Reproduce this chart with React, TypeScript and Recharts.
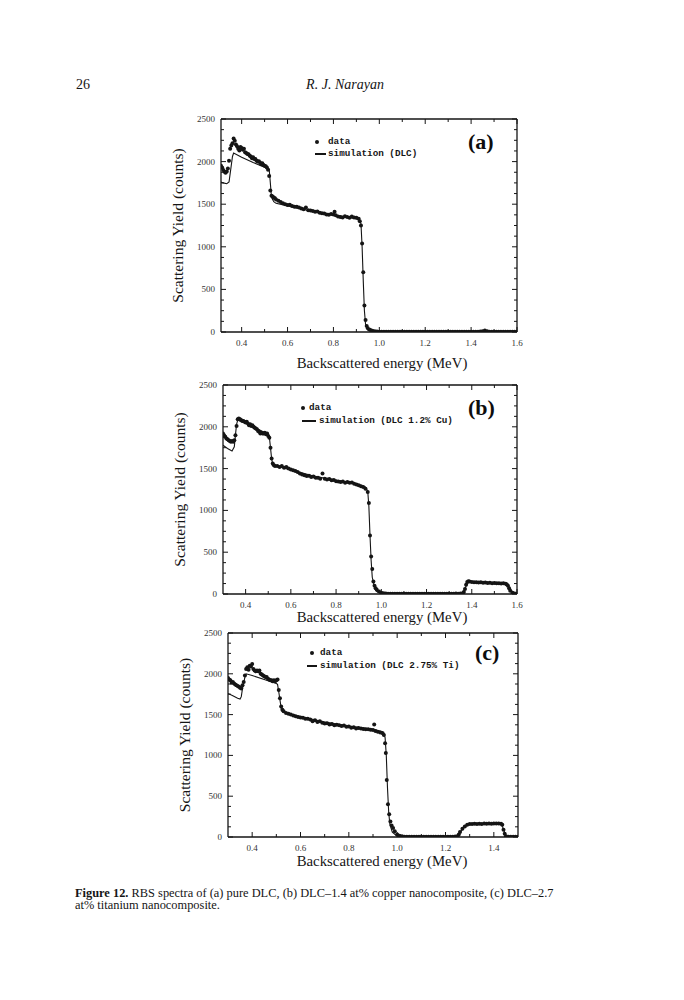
import React from "react";
import { ComposedChart, Scatter, XAxis, YAxis, Legend } from "recharts";

// RBS spectra: [energy MeV, counts]
const dataA = [
  [0.31, 1950], [0.315, 1930], [0.32, 1900], [0.325, 1880], [0.33, 1870], [0.335, 1885], [0.34, 1920],
  [0.345, 2010], [0.35, 2150], [0.355, 2190], [0.36, 2215], [0.365, 2270], [0.37, 2245], [0.375, 2200],
  [0.38, 2180], [0.385, 2150], [0.39, 2130], [0.395, 2170], [0.4, 2160], [0.405, 2140], [0.41, 2150],
  [0.415, 2110], [0.42, 2100], [0.425, 2090], [0.43, 2085], [0.435, 2070], [0.44, 2060], [0.445, 2040],
  [0.45, 2050], [0.455, 2030], [0.46, 2030], [0.465, 2010], [0.47, 2000], [0.475, 2005], [0.48, 1990],
  [0.485, 1970], [0.49, 1980], [0.495, 1960], [0.5, 1950], [0.505, 1945], [0.51, 1930], [0.515, 1905],
  [0.52, 1830], [0.525, 1660], [0.53, 1600], [0.535, 1590], [0.54, 1580], [0.545, 1570], [0.55, 1555],
  [0.56, 1540], [0.57, 1525], [0.58, 1510], [0.59, 1500], [0.6, 1490], [0.61, 1495], [0.62, 1480],
  [0.63, 1470], [0.64, 1470], [0.65, 1460], [0.66, 1450], [0.67, 1440], [0.68, 1460], [0.69, 1430],
  [0.7, 1425], [0.71, 1420], [0.72, 1410], [0.73, 1415], [0.74, 1400], [0.75, 1395], [0.76, 1390],
  [0.77, 1380], [0.78, 1375], [0.79, 1385], [0.8, 1380], [0.805, 1410], [0.81, 1370], [0.82, 1355],
  [0.83, 1350], [0.84, 1345], [0.85, 1360], [0.86, 1350], [0.87, 1340], [0.88, 1355], [0.89, 1345],
  [0.9, 1340], [0.91, 1330], [0.915, 1300], [0.92, 1250], [0.925, 1040], [0.93, 700], [0.935, 310],
  [0.94, 140], [0.945, 70], [0.95, 45], [0.96, 25], [0.97, 15], [0.98, 8], [0.99, 5], [1.0, 4],
  [1.01, 3], [1.02, 3], [1.03, 2], [1.04, 3], [1.05, 2], [1.06, 2], [1.07, 3], [1.08, 2], [1.09, 2],
  [1.1, 3], [1.11, 2], [1.12, 2], [1.13, 3], [1.14, 2], [1.15, 2], [1.16, 3], [1.17, 2], [1.18, 2],
  [1.19, 3], [1.2, 2], [1.21, 3], [1.22, 4], [1.23, 2], [1.24, 2], [1.25, 3], [1.26, 2], [1.27, 2],
  [1.28, 3], [1.29, 2], [1.3, 2], [1.31, 3], [1.32, 2], [1.33, 2], [1.34, 3], [1.35, 2], [1.36, 2],
  [1.37, 3], [1.38, 2], [1.39, 3], [1.4, 2], [1.41, 2], [1.42, 3], [1.43, 3], [1.44, 5], [1.45, 10],
  [1.46, 18], [1.47, 9], [1.48, 4], [1.49, 3], [1.5, 2], [1.51, 2], [1.52, 3], [1.53, 2], [1.54, 2],
  [1.55, 3], [1.56, 2], [1.57, 2], [1.58, 3], [1.59, 2], [1.6, 2],
];

const simA = [
  [0.31, 1760], [0.32, 1750], [0.335, 1740], [0.345, 1760], [0.352, 1900], [0.36, 2060], [0.365, 2100],
  [0.4, 2050], [0.45, 1990], [0.5, 1935], [0.52, 1910], [0.525, 1750], [0.53, 1580], [0.54, 1530],
  [0.55, 1510], [0.6, 1480], [0.7, 1420], [0.8, 1375], [0.9, 1330], [0.915, 1310], [0.92, 1270],
  [0.925, 1000], [0.93, 600], [0.935, 250], [0.94, 90], [0.95, 20], [0.97, 0], [1.6, 0],
];

const dataB = [
  [0.3, 1920], [0.305, 1900], [0.31, 1880], [0.315, 1860], [0.32, 1850], [0.325, 1840], [0.33, 1830],
  [0.335, 1820], [0.34, 1830], [0.345, 1820], [0.35, 1840], [0.355, 1900], [0.36, 2010], [0.365, 2090],
  [0.37, 2100], [0.375, 2090], [0.38, 2080], [0.385, 2070], [0.39, 2070], [0.395, 2060], [0.4, 2050],
  [0.405, 2060], [0.41, 2040], [0.415, 2020], [0.42, 2030], [0.425, 2010], [0.43, 2020], [0.435, 2000],
  [0.44, 1990], [0.445, 1980], [0.45, 1970], [0.455, 1950], [0.46, 1940], [0.465, 1920], [0.47, 1930],
  [0.475, 1920], [0.48, 1920], [0.485, 1930], [0.49, 1910], [0.495, 1920], [0.5, 1890], [0.505, 1870],
  [0.51, 1750], [0.515, 1620], [0.52, 1560], [0.525, 1540], [0.53, 1530], [0.54, 1530], [0.55, 1520],
  [0.56, 1530], [0.57, 1510], [0.58, 1520], [0.59, 1500], [0.6, 1490], [0.61, 1480], [0.62, 1470],
  [0.63, 1460], [0.64, 1440], [0.65, 1430], [0.66, 1420], [0.67, 1410], [0.68, 1415], [0.69, 1400],
  [0.7, 1405], [0.71, 1390], [0.72, 1390], [0.73, 1380], [0.74, 1440], [0.75, 1380], [0.76, 1370],
  [0.77, 1375], [0.78, 1360], [0.79, 1365], [0.8, 1350], [0.81, 1345], [0.82, 1340], [0.83, 1345],
  [0.84, 1330], [0.85, 1340], [0.86, 1330], [0.87, 1335], [0.88, 1320], [0.89, 1310], [0.9, 1300],
  [0.91, 1290], [0.92, 1280], [0.93, 1260], [0.94, 1220], [0.945, 1090], [0.95, 700], [0.955, 450],
  [0.96, 300], [0.965, 150], [0.97, 100], [0.975, 70], [0.98, 50], [0.99, 30], [1.0, 15], [1.01, 8],
  [1.02, 5], [1.03, 4], [1.04, 4], [1.05, 3], [1.06, 4], [1.07, 3], [1.08, 4], [1.09, 3], [1.1, 4],
  [1.11, 3], [1.12, 3], [1.13, 4], [1.14, 3], [1.15, 4], [1.16, 3], [1.17, 3], [1.18, 4], [1.19, 3],
  [1.2, 4], [1.21, 3], [1.22, 3], [1.23, 4], [1.24, 3], [1.25, 4], [1.26, 3], [1.27, 3], [1.28, 4],
  [1.29, 3], [1.3, 4], [1.31, 3], [1.32, 4], [1.33, 5], [1.34, 4], [1.35, 6], [1.36, 10], [1.365, 25],
  [1.37, 60], [1.375, 110], [1.38, 145], [1.385, 152], [1.39, 150], [1.4, 145], [1.41, 140], [1.42, 142],
  [1.43, 138], [1.44, 140], [1.45, 135], [1.46, 137], [1.47, 133], [1.48, 135], [1.49, 130], [1.5, 132],
  [1.51, 128], [1.52, 130], [1.53, 126], [1.54, 128], [1.55, 122], [1.555, 115], [1.56, 100],
  [1.565, 70], [1.57, 40], [1.58, 15], [1.59, 6], [1.6, 3],
];

const simB = [
  [0.3, 1780], [0.32, 1740], [0.34, 1710], [0.35, 1760], [0.355, 1900], [0.36, 2030], [0.365, 2080],
  [0.4, 2050], [0.45, 1980], [0.5, 1910], [0.505, 1880], [0.51, 1750], [0.515, 1620], [0.52, 1550],
  [0.55, 1520], [0.6, 1485], [0.7, 1410], [0.8, 1360], [0.9, 1310], [0.93, 1280], [0.94, 1230],
  [0.945, 1050], [0.95, 700], [0.955, 400], [0.96, 200], [0.97, 80], [0.98, 30], [1.0, 5], [1.36, 5],
  [1.37, 60], [1.38, 140], [1.4, 140], [1.55, 125], [1.56, 100], [1.575, 40], [1.59, 5], [1.6, 3],
];

const dataC = [
  [0.3, 1950], [0.305, 1930], [0.31, 1920], [0.315, 1890], [0.32, 1900], [0.325, 1880], [0.33, 1870],
  [0.335, 1860], [0.34, 1850], [0.345, 1840], [0.35, 1830], [0.355, 1820], [0.36, 1860], [0.365, 1900],
  [0.37, 1980], [0.375, 2060], [0.38, 2080], [0.385, 2050], [0.39, 2100], [0.395, 2090], [0.4, 2120],
  [0.405, 2060], [0.41, 2040], [0.415, 2030], [0.42, 2040], [0.425, 2030], [0.43, 2040], [0.435, 2000],
  [0.44, 1990], [0.445, 1980], [0.45, 1970], [0.455, 1960], [0.46, 1960], [0.465, 1940], [0.47, 1930],
  [0.475, 1920], [0.48, 1920], [0.485, 1910], [0.49, 1920], [0.495, 1910], [0.5, 1920], [0.505, 1930],
  [0.51, 1800], [0.515, 1700], [0.52, 1600], [0.525, 1560], [0.53, 1540], [0.54, 1520], [0.55, 1510],
  [0.56, 1500], [0.57, 1490], [0.58, 1480], [0.59, 1470], [0.6, 1465], [0.61, 1460], [0.62, 1450],
  [0.63, 1450], [0.64, 1440], [0.65, 1420], [0.66, 1430], [0.67, 1410], [0.68, 1420], [0.69, 1400],
  [0.7, 1390], [0.71, 1395], [0.72, 1380], [0.73, 1385], [0.74, 1370], [0.75, 1375], [0.76, 1370],
  [0.77, 1360], [0.78, 1365], [0.79, 1350], [0.8, 1355], [0.81, 1340], [0.82, 1345], [0.83, 1330],
  [0.84, 1335], [0.85, 1330], [0.86, 1325], [0.87, 1320], [0.88, 1320], [0.89, 1315], [0.9, 1310],
  [0.905, 1380], [0.91, 1300], [0.92, 1290], [0.93, 1280], [0.94, 1270], [0.945, 1250], [0.95, 1150],
  [0.953, 1030], [0.957, 700], [0.962, 400], [0.967, 280], [0.972, 190], [0.977, 140], [0.983, 110],
  [0.99, 70], [1.0, 30], [1.01, 15], [1.02, 8], [1.03, 4], [1.04, 3], [1.05, 4], [1.06, 3], [1.07, 3],
  [1.08, 4], [1.09, 3], [1.1, 3], [1.11, 4], [1.12, 3], [1.13, 3], [1.14, 4], [1.15, 3], [1.16, 3],
  [1.17, 4], [1.18, 3], [1.19, 3], [1.2, 4], [1.21, 3], [1.22, 4], [1.23, 3], [1.24, 5], [1.25, 10],
  [1.255, 30], [1.26, 60], [1.27, 100], [1.28, 130], [1.29, 150], [1.3, 160], [1.31, 158], [1.32, 162],
  [1.33, 160], [1.34, 163], [1.35, 160], [1.36, 165], [1.37, 162], [1.38, 165], [1.39, 163], [1.4, 166],
  [1.41, 164], [1.42, 166], [1.43, 162], [1.435, 150], [1.44, 90], [1.445, 40], [1.45, 10], [1.46, 4],
  [1.47, 3], [1.48, 3], [1.49, 4], [1.5, 3],
];

const simC = [
  [0.3, 1760], [0.32, 1730], [0.34, 1700], [0.35, 1690], [0.355, 1720], [0.36, 1820], [0.37, 1960],
  [0.375, 2000], [0.4, 1980], [0.45, 1930], [0.5, 1880], [0.505, 1870], [0.51, 1780], [0.515, 1680],
  [0.52, 1580], [0.525, 1540], [0.55, 1510], [0.6, 1475], [0.7, 1410], [0.8, 1360], [0.9, 1320],
  [0.94, 1290], [0.95, 1220], [0.955, 1000], [0.96, 600], [0.965, 300], [0.97, 150], [0.98, 60],
  [1.0, 10], [1.02, 0], [1.24, 0], [1.26, 50], [1.28, 140], [1.3, 160], [1.43, 160], [1.44, 100],
  [1.45, 10], [1.5, 0],
];

// tick values
const xLabelsAB = [0.4, 0.6, 0.8, 1.0, 1.2, 1.4, 1.6];
const xTicksAB = [0.4, 0.5, 0.6, 0.7, 0.8, 0.9, 1.0, 1.1, 1.2, 1.3, 1.4, 1.5, 1.6];
const xLabelsC = [0.4, 0.6, 0.8, 1.0, 1.2, 1.4];
const xTicksC = [0.4, 0.5, 0.6, 0.7, 0.8, 0.9, 1.0, 1.1, 1.2, 1.3, 1.4];
const yLabels = [0, 500, 1000, 1500, 2000, 2500];
const yTicks = [
  0, 125, 250, 375, 500, 625, 750, 875, 1000, 1125, 1250, 1375, 1500, 1625, 1750, 1875, 2000, 2125,
  2250, 2375, 2500,
];

const SERIF = "'Liberation Serif', 'DejaVu Serif', serif";
const MONO = "'Liberation Mono', 'DejaVu Sans Mono', monospace";
const INK = "#151515";

const toPoints = (rows) => rows.map(([x, y]) => ({ x, y }));
const isIn = (list, v) => list.some((m) => Math.abs(m - v) < 1e-6);

const panels = [
  {
    id: "a", data: dataA, sim: simA, simName: "simulation (DLC)", letter: "(a)",
    svgTop: 100, svgH: 275, L: 221, R: 517, T: 119, B: 332, xDomain: [0.31, 1.6],
    xLabels: xLabelsAB, xTicks: xTicksAB, xTitleX: 382, xTitleY: 368, yTitleX: 178,
    letterX: 468, letterY: 142,
    leg: { dotX: 317, dataX: 328, lineX1: 315, lineX2: 326, simX: 328, row1: 142, row2: 154 },
  },
  {
    id: "b", data: dataB, sim: simB, simName: "simulation (DLC 1.2% Cu)", letter: "(b)",
    svgTop: 372, svgH: 265, L: 223, R: 517, T: 385, B: 594, xDomain: [0.3, 1.6],
    xLabels: xLabelsAB, xTicks: xTicksAB, xTitleX: 382, xTitleY: 622, yTitleX: 180,
    letterX: 468, letterY: 408,
    leg: { dotX: 303, dataX: 309, lineX1: 302, lineX2: 316, simX: 319, row1: 408, row2: 421 },
  },
  {
    id: "c", data: dataC, sim: simC, simName: "simulation (DLC 2.75% Ti)", letter: "(c)",
    svgTop: 620, svgH: 260, L: 228, R: 518, T: 633, B: 837, xDomain: [0.3, 1.5],
    xLabels: xLabelsC, xTicks: xTicksC, xTitleX: 382, xTitleY: 866, yTitleX: 185,
    letterX: 475, letterY: 653,
    leg: { dotX: 312, dataX: 320, lineX1: 307, lineX2: 317, simX: 320, row1: 653, row2: 666 },
  },
];

const dot = (p) => (p.cx == null ? <g /> : <circle cx={p.cx} cy={p.cy} r={2} fill={INK} />);
const noDot = () => <g />;

function BottomTick({ x, y, payload, labels }) {
  const major = isIn(labels, payload.value);
  return (
    <g>
      <line x1={x} x2={x} y1={y} y2={y - (major ? 5 : 3)} stroke={INK} strokeWidth={1} />
      {major && (
        <text x={x} y={y + 10.5} textAnchor="middle" dominantBaseline="central"
          fontFamily={SERIF} fontSize={9} fill="#333">
          {payload.value.toFixed(1)}
        </text>
      )}
    </g>
  );
}

function TopTick({ x, y, payload, labels }) {
  const major = isIn(labels, payload.value);
  return <line x1={x} x2={x} y1={y} y2={y + (major ? 5 : 3)} stroke={INK} strokeWidth={1} />;
}

function LeftTick({ x, y, payload }) {
  const major = isIn(yLabels, payload.value);
  return (
    <g>
      <line x1={x} x2={x + (major ? 5 : 3)} y1={y} y2={y} stroke={INK} strokeWidth={1} />
      {major && (
        <text x={x - 6} y={y} textAnchor="end" dominantBaseline="central"
          fontFamily={SERIF} fontSize={9} fill="#333">
          {payload.value}
        </text>
      )}
    </g>
  );
}

function RightTick({ x, y, payload }) {
  const major = isIn(yLabels, payload.value);
  return <line x1={x} x2={x - (major ? 5 : 3)} y1={y} y2={y} stroke={INK} strokeWidth={1} />;
}

function PanelLegend({ payload, cfg }) {
  const items = payload || [];
  const t = cfg.svgTop;
  const g = cfg.leg;
  return (
    <div style={{ position: "relative", width: 684, height: cfg.svgH, color: INK,
      fontFamily: MONO, fontWeight: 700, fontSize: 9.3 }}>
      {items.map((e, i) => {
        const cy = (i === 0 ? g.row1 : g.row2) - t;
        if (i === 0) {
          return (
            <React.Fragment key={e.value}>
              <span style={{ position: "absolute", left: g.dotX - 2, top: cy - 2, width: 4.4,
                height: 4.4, borderRadius: 3, background: INK }} />
              <span style={{ position: "absolute", left: g.dataX, top: cy - 6, lineHeight: "12px",
                whiteSpace: "nowrap" }}>{e.value}</span>
            </React.Fragment>
          );
        }
        return (
          <React.Fragment key={e.value}>
            <span style={{ position: "absolute", left: g.lineX1, top: cy - 0.6,
              width: g.lineX2 - g.lineX1, height: 1.2, background: INK }} />
            <span style={{ position: "absolute", left: g.simX, top: cy - 6, lineHeight: "12px",
              whiteSpace: "nowrap" }}>{e.value}</span>
          </React.Fragment>
        );
      })}
      <span style={{ position: "absolute", left: cfg.letterX, top: cfg.letterY - t - 13,
        fontFamily: SERIF, fontWeight: 700, fontSize: 22, lineHeight: "26px", color: "#0d0d0d" }}>
        {cfg.letter}
      </span>
    </div>
  );
}

function Panel({ cfg }) {
  const axisLine = { stroke: INK, strokeWidth: 1.3 };
  // the top and right axes take 1px each
  const margin = {
    left: cfg.L - 60,
    top: cfg.T - cfg.svgTop - 1,
    right: 684 - cfg.R - 1,
    bottom: cfg.svgTop + cfg.svgH - cfg.B - 40,
  };
  const xTitle = () => (
    <text x={cfg.xTitleX} y={cfg.xTitleY - cfg.svgTop} textAnchor="middle"
      fontFamily={SERIF} fontSize={14.8} fill={INK}>
      Backscattered energy (MeV)
    </text>
  );
  const yTitle = () => {
    const cx = cfg.yTitleX;
    const cy = (cfg.T + cfg.B) / 2 - cfg.svgTop;
    return (
      <text x={cx} y={cy} dy="0.35em" textAnchor="middle" transform={`rotate(-90 ${cx} ${cy})`}
        fontFamily={SERIF} fontSize={15.5} fill={INK}>
        Scattering Yield (counts)
      </text>
    );
  };
  return (
    <div style={{ position: "absolute", left: 0, top: cfg.svgTop }}>
      <ComposedChart width={684} height={cfg.svgH} margin={margin}>
        <XAxis type="number" dataKey="x" domain={cfg.xDomain} allowDataOverflow ticks={cfg.xTicks}
          interval={0} height={40} tickSize={0} tickMargin={0} tickLine={false} axisLine={axisLine}
          tick={(p) => <BottomTick {...p} labels={cfg.xLabels} />} label={xTitle} />
        <XAxis xAxisId="top" orientation="top" type="number" dataKey="x" domain={cfg.xDomain}
          allowDataOverflow ticks={cfg.xTicks} interval={0} height={1} tickSize={0} tickMargin={0}
          tickLine={false} axisLine={axisLine}
          tick={(p) => <TopTick {...p} labels={cfg.xLabels} />} />
        <YAxis type="number" dataKey="y" domain={[0, 2500]} allowDataOverflow ticks={yTicks}
          interval={0} width={60} tickSize={0} tickMargin={0} tickLine={false} axisLine={axisLine}
          tick={(p) => <LeftTick {...p} />} label={yTitle} />
        <YAxis yAxisId="right" orientation="right" type="number" dataKey="y" domain={[0, 2500]}
          allowDataOverflow ticks={yTicks} interval={0} width={1} tickSize={0} tickMargin={0}
          tickLine={false} axisLine={axisLine} tick={(p) => <RightTick {...p} />} />
        <Legend layout="vertical" align="center" verticalAlign="middle"
          wrapperStyle={{ left: 0, top: 0, width: 684, height: cfg.svgH }}
          content={(p) => <PanelLegend payload={p.payload} cfg={cfg} />} />
        <Scatter name="data" data={toPoints(cfg.data)} shape={dot} legendType="circle"
          isAnimationActive={false} />
        <Scatter name={cfg.simName} data={toPoints(cfg.sim)} xAxisId="top" yAxisId="right"
          shape={noDot} legendType="line" line={{ stroke: INK, strokeWidth: 1.1 }} lineType="joint"
          isAnimationActive={false} />
      </ComposedChart>
    </div>
  );
}

export default function App() {
  return (
    <div style={{ position: "absolute", left: 0, top: 0, width: 684, height: 1000,
      background: "#fff", fontFamily: SERIF, color: INK }}>
      <div style={{ position: "absolute", left: 76, top: 76, fontSize: 14, lineHeight: "18px" }}>26</div>
      <div style={{ position: "absolute", left: 345, top: 76, fontSize: 14, lineHeight: "18px",
        fontStyle: "italic", transform: "translateX(-50%)", whiteSpace: "nowrap" }}>
        R. J. Narayan
      </div>
      {panels.map((cfg) => (
        <Panel key={cfg.id} cfg={cfg} />
      ))}
      <div style={{ position: "absolute", left: 75, top: 887, fontSize: 12.4, lineHeight: "12px",
        whiteSpace: "nowrap" }}>
        <b>Figure 12.</b> RBS spectra of (a) pure DLC, (b) DLC–1.4 at% copper nanocomposite, (c) DLC–2.7
        <br />
        at% titanium nanocomposite.
      </div>
    </div>
  );
}
